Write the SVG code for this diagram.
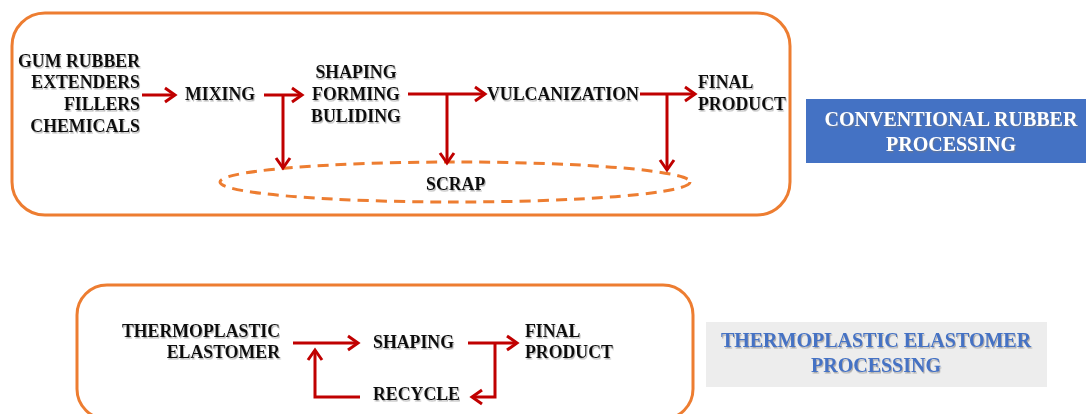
<svg xmlns="http://www.w3.org/2000/svg" width="1086" height="414" viewBox="0 0 1086 414">
<style>
.frame{fill:#fff;stroke:#ED7D31;stroke-width:3}
.t{font-family:"Liberation Serif","Times New Roman",serif;font-weight:bold;font-size:17.8px;fill:#111;filter:url(#sh)}
.lbl{font-family:"Liberation Serif","Times New Roman",serif;font-weight:bold;font-size:20px;filter:url(#sh)}
.c{fill:none;stroke:#C00000;stroke-width:3}
</style>
<defs>
<filter id="sh" x="-10%" y="-30%" width="120%" height="160%">
<feDropShadow dx="1" dy="1.5" stdDeviation="0.7" flood-color="#777" flood-opacity="0.55"/>
</filter>
<marker id="ah" markerUnits="userSpaceOnUse" markerWidth="16" markerHeight="18" refX="13" refY="9" orient="auto">
<path d="M3,2 L13,9 L3,16" fill="none" stroke="#C00000" stroke-width="3"/>
</marker>
</defs>
<rect width="1086" height="414" fill="#fff"/>
<g id="conventional-frame"><rect class="frame" x="12" y="13" width="778" height="202" rx="33"/></g>
<g id="tpe-frame"><rect class="frame" x="77" y="285" width="616" height="134" rx="30"/></g>
<g id="scrap"><ellipse cx="455" cy="182" rx="235" ry="20" fill="none" stroke="#ED7D31" stroke-width="3" stroke-dasharray="11 7"/>
<text class="t" x="426" y="190">SCRAP</text></g>
<g id="inputs"><text class="t" text-anchor="end">
<tspan x="140" y="67">GUM RUBBER</tspan><tspan x="140" y="88">EXTENDERS</tspan><tspan x="140" y="110">FILLERS</tspan><tspan x="140" y="132">CHEMICALS</tspan></text></g>
<g id="mixing"><text class="t" x="185" y="100">MIXING</text></g>
<g id="shaping1"><text class="t" text-anchor="middle"><tspan x="356" y="78">SHAPING</tspan><tspan x="356" y="100">FORMING</tspan><tspan x="356" y="122">BULIDING</tspan></text></g>
<g id="vulcanization"><text class="t" x="487" y="100">VULCANIZATION</text></g>
<g id="final1"><text class="t"><tspan x="698" y="88">FINAL</tspan><tspan x="698" y="110">PRODUCT</tspan></text></g>
<g id="label-conventional"><rect x="806" y="99" width="290" height="64" fill="#4472C4"/>
<text class="lbl" fill="#fff" text-anchor="middle"><tspan x="951" y="126">CONVENTIONAL RUBBER</tspan><tspan x="951" y="151">PROCESSING</tspan></text></g>
<g id="tpe"><text class="t" text-anchor="end"><tspan x="280" y="337">THERMOPLASTIC</tspan><tspan x="280" y="358">ELASTOMER</tspan></text></g>
<g id="shaping2"><text class="t" x="373" y="348">SHAPING</text></g>
<g id="final2"><text class="t"><tspan x="525" y="337">FINAL</tspan><tspan x="525" y="358">PRODUCT</tspan></text></g>
<g id="recycle"><text class="t" x="373" y="400">RECYCLE</text></g>
<g id="label-tpe"><rect x="706" y="322" width="341" height="65" fill="#EDEDED"/>
<text class="lbl" fill="#4472C4" text-anchor="middle"><tspan x="876" y="347">THERMOPLASTIC ELASTOMER</tspan><tspan x="876" y="372">PROCESSING</tspan></text></g>
<g id="connectors">
<path class="c" d="M142,95 H175" marker-end="url(#ah)"/>
<path class="c" d="M264,95 H302" marker-end="url(#ah)"/>
<path class="c" d="M283,95 V168" marker-end="url(#ah)"/>
<path class="c" d="M408,94 H485" marker-end="url(#ah)"/>
<path class="c" d="M447,94 V163" marker-end="url(#ah)"/>
<path class="c" d="M640,94 H695" marker-end="url(#ah)"/>
<path class="c" d="M667,94 V170" marker-end="url(#ah)"/>
<path class="c" d="M293,343 H358" marker-end="url(#ah)"/>
<path class="c" d="M360,397 H315 V350" marker-end="url(#ah)"/>
<path class="c" d="M468,343 H517" marker-end="url(#ah)"/>
<path class="c" d="M495,343 V397 H472" marker-end="url(#ah)"/>
</g>
</svg>
